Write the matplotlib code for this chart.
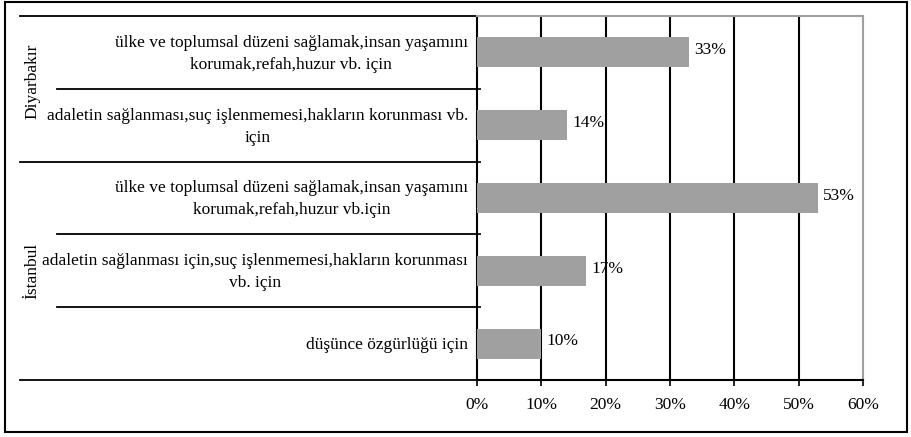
import matplotlib.pyplot as plt
from matplotlib.patches import Rectangle
from matplotlib.transforms import blended_transform_factory

# data
groups = ['Diyarbakır', 'İstanbul']
group_sizes = [2, 3]
labels = [
    'ülke ve toplumsal düzeni sağlamak,insan yaşamını\nkorumak,refah,huzur vb. için',
    'adaletin sağlanması,suç işlenmemesi,hakların korunması vb.\niçin',
    'ülke ve toplumsal düzeni sağlamak,insan yaşamını\nkorumak,refah,huzur vb.için',
    'adaletin sağlanması için,suç işlenmemesi,hakların korunması\nvb. için',
    'düşünce özgürlüğü için',
]
values = [33, 14, 53, 17, 10]
xticks = [0, 10, 20, 30, 40, 50, 60]

plt.rcParams['font.family'] = ['Liberation Serif', 'DejaVu Serif']
FS = 12.5

fig = plt.figure(figsize=(9.12, 4.37), dpi=100)
W, H = 912, 437
ax = fig.add_axes([477 / W, 1 - 380 / H, (863 - 477) / W, (380 - 16) / H])

ypos = list(range(len(values)))
ax.barh(ypos, values, height=0.41, color='#a0a0a0', zorder=3)
for y, v in zip(ypos, values):
    ax.text(v + 0.8, y - 0.03, '%d%%' % v, va='center', ha='left', fontsize=FS, zorder=4)

ax.set_xlim(0, 60)
ax.set_ylim(len(values) - 0.5, -0.5)
ax.set_xticks(xticks)
ax.set_xticklabels(['%d%%' % t for t in xticks], fontsize=FS)
ax.tick_params(axis='x', direction='out', length=4, width=1.2, pad=8)
ax.set_yticks([y + 0.5 for y in ypos[:-1]])
ax.set_yticklabels([])
ax.tick_params(axis='y', direction='in', length=3, width=1.2)
for t in xticks[1:-1]:
    ax.axvline(t, color='black', lw=1.5, zorder=1)

for side in ['top', 'right']:
    ax.spines[side].set_color('#a0a0a0')
    ax.spines[side].set_linewidth(1.5)
for side in ['left', 'bottom']:
    ax.spines[side].set_color('black')
    ax.spines[side].set_linewidth(1.5)

# category labels and separators to the left of the axis
tr = blended_transform_factory(fig.transFigure, ax.transData)
for y, lab in zip(ypos, labels):
    ax.text(468 / W, y + 0.02, lab, transform=tr, ha='right', va='center',
            multialignment='center', fontsize=FS, linespacing=1.5)

start = 0
bounds = [-0.5]
for g, n in zip(groups, group_sizes):
    mid = start + (n - 1) / 2
    if n == 2:
        mid -= 0.1
    ax.text(32 / W, mid, g, transform=tr, rotation=90, ha='center', va='center', fontsize=FS)
    for k in range(1, n):
        ax.plot([57 / W, 477 / W], [start + k - 0.5] * 2, transform=tr,
                color='black', lw=1.3, clip_on=False)
    start += n
    bounds.append(start - 0.5)
for b in bounds:
    ax.plot([20 / W, 477 / W], [b, b], transform=tr, color='black', lw=1.3, clip_on=False)

# outer frame
fig.patches.append(Rectangle((5 / W, 5 / H), 902 / W, 430 / H, transform=fig.transFigure,
                             fill=False, edgecolor='black', lw=1.5))

fig.savefig('out.png', dpi=100)
